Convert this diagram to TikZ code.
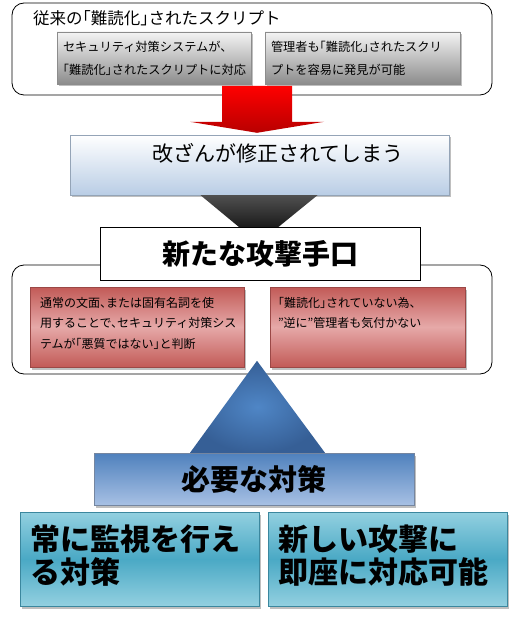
\documentclass[tikz,border=0pt]{standalone}
\usepackage{fontspec}
\setmainfont{Noto Sans CJK JP}[RawFeature=+halt]
\usepackage{tikz}
\usetikzlibrary{positioning, shadows}
\definecolor{GrayTop}{HTML}{F4F4F4}
\definecolor{GrayBot}{HTML}{8C8C8C}
\definecolor{ArrowRed}{HTML}{FF0000}
\definecolor{ArrowDark}{HTML}{B80000}
\definecolor{SkyBot}{HTML}{B9CDE5}
\definecolor{FunnelTop}{HTML}{505050}
\definecolor{RoseDark}{HTML}{C25A57}
\definecolor{RoseLight}{HTML}{E6A9A8}
\definecolor{SteelBlue}{HTML}{4F81BD}
\definecolor{SteelLight}{HTML}{A7C0E4}
\definecolor{TriLight}{HTML}{4F86C6}
\definecolor{TriDark}{HTML}{365F96}
\definecolor{AquaDark}{HTML}{4AA9C5}
\definecolor{AquaLight}{HTML}{93D0E0}
\newcommand{\pxfont}[2]{\fontsize{#1}{#2}\selectfont}
\tikzset{
  frame/.style={
    rectangle, rounded corners=12pt, draw=black, line width=0.8pt,
    fill=white, minimum width=480pt, minimum height=#1
  },
  box/.style={
    rectangle, minimum width=#1, inner sep=0pt, align=left,
    drop shadow={shadow xshift=2pt, shadow yshift=-2.5pt, opacity=0.5}
  },
  box/.default=194pt,
  grayBox/.style={box=#1, top color=GrayTop, bottom color=GrayBot, draw=GrayBot, line width=0.4pt},
  skyBox/.style={box=#1, top color=white, bottom color=SkyBot, draw=SkyBot!80!black, line width=0.4pt},
  roseBox/.style={box=#1, top color=RoseDark, bottom color=RoseDark, middle color=RoseLight, draw=RoseDark!80!black, line width=0.4pt},
  needBox/.style={box=#1, top color=SteelBlue, bottom color=SteelLight, draw=SteelLight!70!black, line width=0.4pt},
  aquaBox/.style={box=#1, top color=AquaLight, bottom color=AquaLight, middle color=AquaDark, draw=AquaDark!80!black, line width=0.4pt},
  txt/.style={inner sep=0pt, align=left},
}

\begin{document}
\begin{tikzpicture}[x=1pt, y=-1pt]
\useasboundingbox (0,0) rectangle (523,620);

% Old obfuscated scripts
\node[frame=92pt] at (252,49) (old) {};
\node[txt, anchor=west, font=\pxfont{16.5}{20}] at (33,18) (oldTitle) {従来の「難読化」されたスクリプト};
\node[grayBox=194pt, minimum height=52pt, text width=182pt, inner xsep=6pt, font=\pxfont{12.2}{23}] at (154,58) (g1) {セキュリティ対策システムが、\\「難読化」されたスクリプトに対応};
\node[grayBox=195pt, minimum height=52pt, text width=183pt, inner xsep=6pt, font=\pxfont{12.2}{23}] at (362.5,58) (g2) {管理者も「難読化」されたスクリ\\プトを容易に発見が可能};

% Tampering gets fixed
\node[skyBox=379pt, minimum height=60pt] at (259.5,165) (fix) {};
\node[txt, font=\pxfont{21}{24}] at (278,153) (fixText) {改ざんが修正されてしまう};

% Arrows
\coordinate (redTip) at ([xshift=-2.5pt, yshift=2pt]fix.north);
\path[top color=ArrowRed, bottom color=ArrowDark] (redTip) -- ++(-67,-11) -- ++(32,0) -- ++(0,-36)
  -- ++(70,0) -- ++(0,36) -- ++(32,0) -- cycle;
\path[top color=FunnelTop, bottom color=black] (fix.south) ++(-59,0) -- ++(117,0) -- ++(-59,48) -- cycle;

% New attack method
\node[frame=109pt] at (252,319.5) (new) {};
\node[draw=black, line width=0.8pt, fill=white, minimum width=320pt, minimum height=53pt,
  font=\bfseries\pxfont{28}{30}] at (260,253.5) (attack) {新たな攻撃手口};
\node[roseBox=214pt, minimum height=80pt] at (137,327) (r1) {};
\node[roseBox=195pt, minimum height=80pt] at (367.5,327) (r2) {};
\node[txt, font=\pxfont{12}{20.5}, below right=10pt and 10pt of r1.north west] (r1Text) {通常の文面、または固有名詞を使\\用することで、セキュリティ対策シス\\テムが「悪質ではない」と判断};
\node[txt, font=\pxfont{12}{20.5}, below right=10pt and 8pt of r2.north west] (r2Text) {「難読化」されていない為、\\”逆に”管理者も気付かない};

% Countermeasures
\node[needBox=320pt, minimum height=52pt, font=\bfseries\pxfont{29}{30}] at (254,479) (need) {必要な対策};
\path[shading=radial, inner color=TriLight, outer color=TriDark] (need.north) ++(-64,0) -- ++(135,0) -- ++(-68,-92) -- cycle;
\node[aquaBox=239pt, minimum height=94pt] at (139.5,559) (t1) {};
\node[aquaBox=239pt, minimum height=94pt] at (387.5,559) (t2) {};
\node[txt, font=\bfseries\pxfont{30}{33}, below right=12.5pt and 10pt of t1.north west] (t1Text) {常に監視を行え\\る対策};
\node[txt, font=\bfseries\pxfont{30}{33}, below right=12.5pt and 10pt of t2.north west] (t2Text) {新しい攻撃に\\即座に対応可能};

\end{tikzpicture}
\end{document}
